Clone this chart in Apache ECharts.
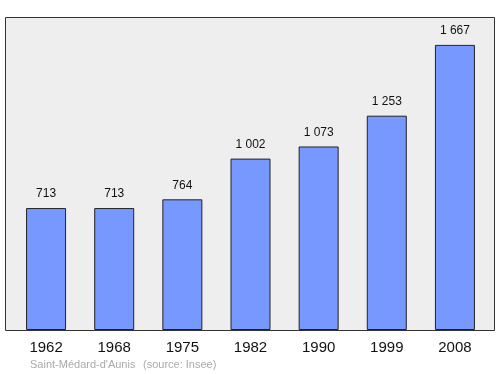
<!DOCTYPE html>
<html><head><meta charset="utf-8">
<script src="https://cdn.jsdelivr.net/npm/echarts@6/dist/echarts.min.js"></script>
<style>html,body{margin:0;padding:0;background:#fff}#c{width:500px;height:374px}</style>
</head><body><div id="c"></div>
<script>
const years = ['1962','1968','1975','1982','1990','1999','2008'];
const population = [713, 713, 764, 1002, 1073, 1253, 1667];
const labels = ['713','713','764','1 002','1 073','1 253','1 667'];
const placeName = "Saint-Médard-d'Aunis";
const sourceNote = "(source: Insee)";

const FONT = '"Liberation Sans", Arial, sans-serif';
const chart = echarts.init(document.getElementById('c'), null, {renderer:'canvas'});
chart.setOption({
  animation: false,
  graphic: [
    {type:'rect', shape:{x:5.5,y:17.5,width:489,height:313}, style:{fill:'#eeeeee',stroke:'#333',lineWidth:1}, z:-10},
    {type:'text', left:30, top:359, style:{text:placeName, fill:'#aaaaaa', font:'11px ' + FONT}},
    {type:'text', left:143, top:359, style:{text:sourceNote, fill:'#aaaaaa', font:'11px ' + FONT}}
  ],
  grid: {left:12, right:11, top:17, bottom:44},
  xAxis: {
    type:'category', data: years,
    axisLine:{show:false}, axisTick:{show:false},
    axisLabel:{color:'#111', fontSize:15, margin:10, fontFamily:FONT}
  },
  yAxis: {
    type:'value', min:0, max:1830,
    show:false, splitLine:{show:false}
  },
  series: [{
    type:'bar', data: population, barWidth:40,
    itemStyle:{color:'#7799ff', borderColor:'#222', borderWidth:1},
    label:{show:true, position:'top', distance:8, color:'#111', fontSize:12,
      fontFamily:FONT,
      formatter: p => labels[p.dataIndex]}
  }]
});
</script></body></html>
